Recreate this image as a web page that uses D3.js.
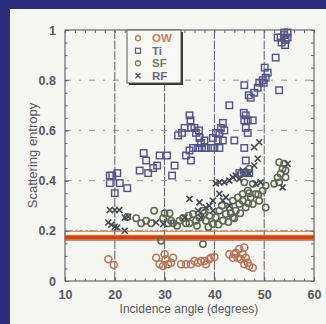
<!DOCTYPE html>
<html>
<head>
<meta charset="utf-8">
<script src="https://cdn.jsdelivr.net/npm/d3@7/dist/d3.min.js"></script>
<style>
  html, body { margin: 0; padding: 0; background: #2c2c7c; }
  svg { display: block; }
</style>
</head>
<body>
<svg id="chart" width="326" height="324"></svg>
<script>
// data: [incidence angle (deg), scattering entropy]
const owPoints = [
  [18.7, 0.087], [19.8, 0.064],
  [28.3, 0.093], [29, 0.067], [29.7, 0.06], [30.2, 0.087], [30.7, 0.067], [31.3, 0.073], [31.7, 0.093], [30, 0.107],
  [33.3, 0.067], [34.3, 0.067], [35.3, 0.067], [36, 0.08], [36.7, 0.073], [37.3, 0.08], [38, 0.08], [39, 0.087],
  [38.3, 0.067], [39.3, 0.093], [40, 0.096],
  [43, 0.107], [43.7, 0.093], [44.3, 0.113], [45, 0.127], [45.7, 0.107], [46.3, 0.093], [46.7, 0.073], [46, 0.067],
  [47, 0.06], [47.7, 0.053], [45.3, 0.087], [44.7, 0.093], [44, 0.107], [46, 0.133]
];
const tiPoints = [
  [19, 0.42], [19.5, 0.42], [20.5, 0.43], [19, 0.39], [20, 0.35], [21, 0.39], [22.5, 0.37],
  [25.8, 0.51], [26.3, 0.48], [25, 0.44], [26.7, 0.43], [27.7, 0.45], [28.5, 0.46], [29, 0.5], [30.5, 0.5],
  [32, 0.46], [31.5, 0.42],
  [32.7, 0.58], [33.5, 0.59], [34, 0.61], [35, 0.66], [35.2, 0.64], [35.3, 0.61], [36, 0.61], [36.3, 0.59],
  [36.9, 0.6], [37, 0.57], [37.3, 0.55], [38, 0.56], [35.7, 0.53], [35, 0.52], [34.3, 0.5], [35.3, 0.48],
  [36.7, 0.53], [37.5, 0.53], [38.3, 0.53], [39.3, 0.53],
  [39.7, 0.57], [40.3, 0.59], [41, 0.59], [41.3, 0.61], [41.7, 0.63], [42, 0.6], [40.7, 0.56], [41.7, 0.56],
  [40, 0.53], [41, 0.53],
  [43, 0.7], [44, 0.56], [46, 0.78],
  [45.9, 0.67], [46.3, 0.66], [46, 0.64], [46.7, 0.64], [46.3, 0.61], [47.7, 0.64], [46.7, 0.59], [46, 0.53],
  [46.9, 0.74], [47.3, 0.73], [48, 0.75], [48.7, 0.77], [49, 0.79], [49.7, 0.8], [50.3, 0.81], [49.9, 0.79],
  [50.1, 0.85], [50.7, 0.83], [53, 0.76], [52.3, 0.89],
  [52.7, 0.97], [53.3, 0.97], [54, 0.98], [54.3, 0.96], [53.5, 0.95], [54.2, 0.94], [54.7, 0.97], [54, 0.99], [54.7, 0.99],
  [46.3, 0.48], [45, 0.43], [46, 0.43], [47, 0.43]
];
const sfPoints = [
  [24.3, 0.25], [25.3, 0.23], [26.3, 0.24], [27.3, 0.23], [27.9, 0.28],
  [29.7, 0.25], [30.7, 0.23], [31.3, 0.24], [30, 0.27], [31, 0.27],
  [31.7, 0.23], [33, 0.24], [33.7, 0.25], [34.3, 0.23], [35, 0.23],
  [35.7, 0.267], [36.3, 0.24], [37, 0.253], [37.7, 0.28], [38.3, 0.24], [39, 0.26], [39.7, 0.227], [40.3, 0.253],
  [41, 0.28], [41.7, 0.24], [42.3, 0.267], [43, 0.293], [43.7, 0.253], [44.3, 0.28], [45, 0.307], [45.7, 0.32],
  [46.3, 0.293], [47.3, 0.333], [47.7, 0.307], [48.3, 0.347], [49, 0.32], [49.7, 0.36], [50.3, 0.293],
  [46.7, 0.36], [45.7, 0.347], [44.7, 0.333], [43.7, 0.32],
  [45.3, 0.427], [46.3, 0.433], [47, 0.447], [46, 0.393], [47.7, 0.387],
  [53, 0.473], [54, 0.467], [54.3, 0.44], [53.7, 0.447], [53.3, 0.427], [52.7, 0.413], [54.3, 0.413], [52, 0.387], [53, 0.393],
  [50.3, 0.38], [37.7, 0.147], [29.3, 0.16], [22.5, 0.255],
  [36.5, 0.22], [38.8, 0.215], [40.8, 0.225], [42.8, 0.235], [44, 0.25], [45.2, 0.27], [46.8, 0.31],
  [38, 0.27], [41.5, 0.3], [43.3, 0.27], [47, 0.35], [48.8, 0.345], [32.5, 0.22], [34.8, 0.26]
];
const rfPoints = [
  [19, 0.283], [20, 0.283], [20.9, 0.283], [18.7, 0.233], [19.3, 0.224], [20, 0.216], [20.5, 0.213],
  [22, 0.253], [22.7, 0.256], [22, 0.2], [28.3, 0.233], [29.7, 0.227],
  [34, 0.253], [35, 0.327], [37, 0.313], [39.7, 0.32], [40.3, 0.389],
  [41, 0.393], [42, 0.393], [43, 0.4], [43.7, 0.413], [44.3, 0.42], [45, 0.407], [45.7, 0.44], [47, 0.427],
  [48, 0.46], [48.7, 0.487], [49, 0.553], [48, 0.533], [48.3, 0.387], [49.3, 0.393],
  [36.7, 0.28], [37.3, 0.253], [38.3, 0.293], [39, 0.3], [39.7, 0.28], [41, 0.347], [41.7, 0.32], [42.3, 0.333], [43, 0.3],
  [53.7, 0.373], [54.7, 0.467]
];
// the thick orange threshold band and the thin lines around it
const bandRange = [0.163, 0.184];
const redBox = [0.162, 0.198];
const greenLine = 0.202;

const xTicks = [10, 20, 30, 40, 50, 60];
const yTicks = [0, 0.2, 0.4, 0.6, 0.8, 1];
const legendNames = ["OW", "TI", "SF", "RF"];

const W = 326, H = 324;
const m = {left: 65, right: 12, top: 30, bottom: 43};
const x = d3.scaleLinear().domain([10, 60]).range([m.left, W - m.right]);
const y = d3.scaleLinear().domain([0, 1]).range([H - m.bottom, m.top]);

const svg = d3.select("#chart");
const font = "'Liberation Sans', Arial, sans-serif";
const textCol = "#58585e";
const axisCol = "#666674";

// paper, with blue frame on top/left
svg.append("rect").attr("x", 10).attr("y", 9).attr("width", W - 10).attr("height", H - 9).attr("fill", "#f6f6f3");

// grid
svg.append("g").selectAll("line").data(xTicks.slice(1, -1)).join("line")
  .attr("x1", d => x(d)).attr("x2", d => x(d))
  .attr("y1", y(1)).attr("y2", y(0))
  .attr("stroke", "#60606c").attr("stroke-width", 1).attr("stroke-dasharray", "9,1.5");
svg.append("g").selectAll("line").data(yTicks.slice(1, -1)).join("line")
  .attr("x1", x(10)).attr("x2", x(60))
  .attr("y1", d => y(d)).attr("y2", d => y(d))
  .attr("stroke", "#8a8a90").attr("stroke-width", 0.9).attr("stroke-dasharray", "6,8,2,8");

// band
svg.append("rect")
  .attr("x", x(10)).attr("width", x(60) - x(10))
  .attr("y", y(redBox[1])).attr("height", y(redBox[0]) - y(redBox[1]))
  .attr("fill", "none").attr("stroke", "#d0604a").attr("stroke-width", 0.8);
svg.append("line")
  .attr("x1", x(10)).attr("x2", x(60)).attr("y1", y(greenLine)).attr("y2", y(greenLine))
  .attr("stroke", "#a0a868").attr("stroke-width", 1).attr("stroke-dasharray", "3,2");
svg.append("rect")
  .attr("x", x(10)).attr("width", x(60) - x(10))
  .attr("y", y(bandRange[1])).attr("height", y(bandRange[0]) - y(bandRange[1]))
  .attr("fill", "#d8762e");
svg.append("rect")
  .attr("x", x(10)).attr("width", x(60) - x(10))
  .attr("y", y(d3.mean(bandRange)) - 1.5).attr("height", 3)
  .attr("fill", "#c8441e");

// markers
const sqSize = 6.5, cR = 3.2, xs = 3;
svg.append("g").selectAll("circle").data(sfPoints).join("circle")
  .attr("cx", d => x(d[0])).attr("cy", d => y(d[1])).attr("r", cR)
  .attr("fill", "none").attr("stroke", "#5e6852").attr("stroke-width", 1.5);
svg.append("g").selectAll("path").data(rfPoints).join("path")
  .attr("d", d => `M${x(d[0]) - xs},${y(d[1]) - xs}L${x(d[0]) + xs},${y(d[1]) + xs}M${x(d[0]) - xs},${y(d[1]) + xs}L${x(d[0]) + xs},${y(d[1]) - xs}`)
  .attr("stroke", "#454a52").attr("stroke-width", 1.6);
svg.append("g").selectAll("rect").data(tiPoints).join("rect")
  .attr("x", d => x(d[0]) - sqSize / 2).attr("y", d => y(d[1]) - sqSize / 2)
  .attr("width", sqSize).attr("height", sqSize)
  .attr("fill", "none").attr("stroke", "#52528a").attr("stroke-width", 1.4);
svg.append("g").selectAll("circle").data(owPoints).join("circle")
  .attr("cx", d => x(d[0])).attr("cy", d => y(d[1])).attr("r", cR + 0.3)
  .attr("fill", "none").attr("stroke", "#b87458").attr("stroke-width", 1.5);

// axes: ticks inward on all four sides
const xMinor = d3.range(10, 60.1, 2);
const yMinor = d3.range(0, 1.001, 0.05);
function styleAxis(g) {
  g.selectAll(".domain").remove();
  g.selectAll("line").attr("stroke", axisCol);
  g.selectAll("text").attr("fill", textCol).attr("font-family", font).attr("font-size", 12.5).attr("font-weight", "bold");
}
svg.append("g").attr("transform", `translate(0,${y(0)})`)
  .call(d3.axisBottom(x).tickValues(xTicks).tickSize(-4).tickPadding(9).tickFormat(d3.format("d")))
  .call(styleAxis);
svg.append("g").attr("transform", `translate(0,${y(0)})`)
  .call(d3.axisBottom(x).tickValues(xMinor).tickSize(-2.5).tickFormat(""))
  .call(styleAxis);
svg.append("g").attr("transform", `translate(0,${y(1)})`)
  .call(d3.axisTop(x).tickValues(xMinor).tickSize(-3).tickFormat(""))
  .call(styleAxis);
svg.append("g").attr("transform", `translate(${x(10)},0)`)
  .call(d3.axisLeft(y).tickValues(yTicks).tickSize(-4).tickPadding(9).tickFormat(d => d === 0 || d === 1 ? d : d3.format(".1f")(d)))
  .call(styleAxis);
svg.append("g").attr("transform", `translate(${x(10)},0)`)
  .call(d3.axisLeft(y).tickValues(yMinor).tickSize(-2.5).tickFormat(""))
  .call(styleAxis);
svg.append("g").attr("transform", `translate(${x(60)},0)`)
  .call(d3.axisRight(y).tickValues(yMinor).tickSize(-3).tickFormat(""))
  .call(styleAxis);
svg.append("rect")
  .attr("x", x(10)).attr("y", y(1)).attr("width", x(60) - x(10)).attr("height", y(0) - y(1))
  .attr("fill", "none").attr("stroke", axisCol).attr("stroke-width", 1.2);

// axis titles
svg.append("text").attr("x", 189).attr("y", 313)
  .attr("text-anchor", "middle").attr("font-family", font).attr("font-size", 12)
  .attr("fill", textCol).text("Incidence angle (degrees)");
svg.append("text").attr("transform", `translate(37,${y(0.5)}) rotate(-90)`)
  .attr("text-anchor", "middle").attr("font-family", font).attr("font-size", 13)
  .attr("fill", textCol).text("Scattering entropy");

// legend
const lg = svg.append("g").attr("transform", "translate(127,30)");
lg.append("rect").attr("x", 2).attr("y", 2).attr("width", 54).attr("height", 53).attr("fill", "#333");
lg.append("rect").attr("width", 54).attr("height", 53).attr("fill", "#f8f8f6").attr("stroke", "#555").attr("stroke-width", 1);
const rowY = d3.scaleBand().domain(legendNames).range([2, 52]);
const legendCol = {OW: "#c8805a", TI: "#6a6a7a", SF: "#7a7e6a", RF: "#6a6a72"};
legendNames.forEach(n => {
  const cy = rowY(n) + rowY.bandwidth() / 2;
  const g = lg.append("g");
  if (n === "OW" || n === "SF") {
    g.append("circle").attr("cx", 11).attr("cy", cy).attr("r", 2.5).attr("fill", "none")
      .attr("stroke", n === "OW" ? "#b08060" : "#76805e").attr("stroke-width", 1.3);
  } else if (n === "TI") {
    g.append("rect").attr("x", 8.5).attr("y", cy - 2.5).attr("width", 5).attr("height", 5)
      .attr("fill", "none").attr("stroke", "#5a5a70").attr("stroke-width", 1.2);
  } else {
    g.append("path").attr("d", `M8.5,${cy - 2.5}L13.5,${cy + 2.5}M8.5,${cy + 2.5}L13.5,${cy - 2.5}`)
      .attr("stroke", "#505058").attr("stroke-width", 1.3);
  }
  g.append("text").attr("x", 25).attr("y", cy + 4)
    .attr("font-family", font).attr("font-size", 11.5).attr("font-weight", "bold")
    .attr("fill", legendCol[n]).text(n === "TI" ? "Ti" : n);
});
</script>
</body>
</html>
